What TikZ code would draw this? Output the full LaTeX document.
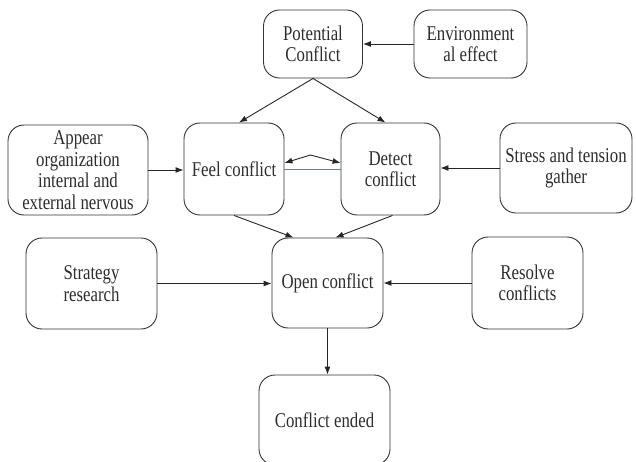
\documentclass[tikz,border=0pt]{standalone}
\usepackage{fontspec}
\setmainfont{Liberation Serif}[FakeStretch=0.8]
\usetikzlibrary{arrows.meta,calc}
\definecolor{txt}{RGB}{45,45,45}
\definecolor{bl}{RGB}{90,130,170}
\begin{document}
\begin{tikzpicture}[x=1pt,y=-1pt,
  box/.style={draw=black!80, line width=0.9pt, rounded corners=16pt, align=center, inner sep=0pt,
    font=\fontsize{21}{21.5}\selectfont, text=txt},
  arr/.style={draw=black!85, line width=0.9pt, -{Latex[length=8pt,width=6pt]}}]
\useasboundingbox (0,0) rectangle (636,462);
\clip (0,0) rectangle (636,462);
\node[box, minimum width=99pt, minimum height=68pt] (pot) at (313,44) {Potential\\Conflict};
\node[box, minimum width=113pt, minimum height=68pt] (env) at (470.5,44) {Environment\\al effect};
\node[box, minimum width=140pt, minimum height=90pt] (app) at (78,170) {Appear\\organization\\internal and\\external nervous};
\node[box, minimum width=100pt, minimum height=92pt] (feel) at (234,169) {Feel conflict};
\node[box, minimum width=99pt, minimum height=92pt] (det) at (390.5,169) {Detect\\conflict};
\node[box, minimum width=132pt, minimum height=90pt] (str) at (566,168) {Stress and tension\\gather};
\node[box, minimum width=131pt, minimum height=91pt] (strat) at (91.5,283.5) {Strategy\\research};
\node[box, minimum width=111pt, minimum height=90pt] (open) at (327.5,283) {Open conflict};
\node[box, minimum width=111pt, minimum height=92pt] (res) at (527.5,283) {Resolve\\conflicts};
\node[box, minimum width=131pt, minimum height=90pt] (end) at (324.5,420) {Conflict ended};

\draw[arr] (env.west) -- (pot.east);
\draw[arr] (pot.south) -- ([xshift=5pt]feel.north);
\draw[arr] (pot.south) -- ([xshift=-5pt]det.north);
\draw[arr] (app.east) -- (feel.west |- app.east);
\draw[arr] (str.west) -- (det.east |- str.west);
\draw[bl, line width=0.9pt] (feel.east) -- (det.west);
\draw[draw=black!85, line width=0.9pt, {Latex[length=8pt,width=6pt]}-{Latex[length=8pt,width=6pt]}]
  ([yshift=6pt]feel.east) -- ++(26,-8) -- ([yshift=6pt]det.west);
\draw[arr] (feel.south) -- ([xshift=-34pt]open.north);
\draw[arr] ([xshift=2pt]det.south) -- ([xshift=8pt]open.north);
\draw[arr] (strat.east) -- (open.west |- strat.east);
\draw[arr] (res.west) -- (open.east |- res.west);
\draw[arr] (open.south) -- (open.south |- end.north);
\end{tikzpicture}
\end{document}
